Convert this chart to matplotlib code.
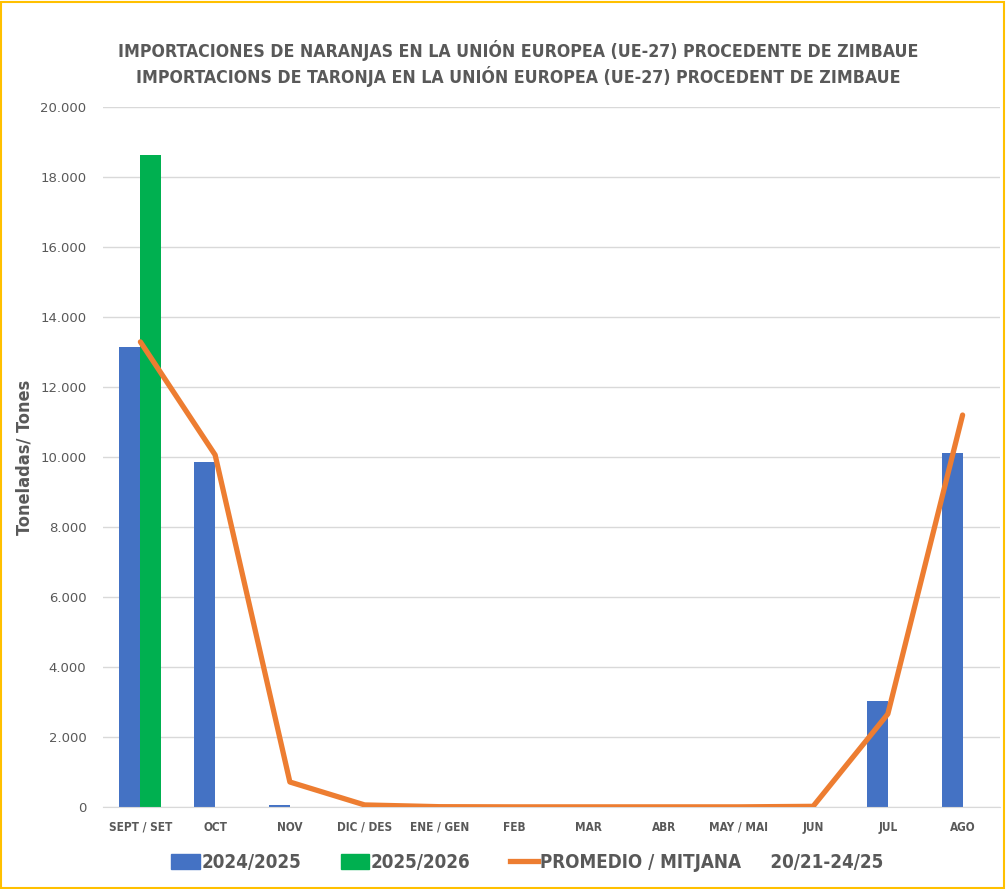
import numpy as np
import matplotlib.pyplot as plt
from matplotlib.patches import Rectangle
from matplotlib.lines import Line2D

months = ['SEPT / SET', 'OCT', 'NOV', 'DIC / DES', 'ENE / GEN', 'FEB', 'MAR',
          'ABR', 'MAY / MAI', 'JUN', 'JUL', 'AGO']
s2425 = [13140, 9860, 60, 0, 0, 0, 0, 0, 0, 0, 3030, 10110]
s2526 = [18630, 0, 0, 0, 0, 0, 0, 0, 0, 0, 0, 0]
promedio = [13290, 10060, 715, 60, 10, 5, 5, 5, 5, 20, 2660, 11200]
yticks = np.arange(0, 20001, 2000)
ytick_labels = ['0' if v == 0 else f'{v // 1000}.000' for v in yticks]

plt.rcParams['font.family'] = ['DejaVu Sans']
plt.rcParams['font.stretch'] = 'condensed'
grey = '#595959'

fig = plt.figure(figsize=(10.06, 8.89), dpi=100)
fig.patches.append(Rectangle((0.001, 0.001), 0.997, 0.997, transform=fig.transFigure,
                             fill=False, edgecolor='#FFC000', linewidth=1.5))
ax = fig.add_axes([0.1024, 0.0922, 0.8916, 0.7874])

x = np.arange(len(months))
w = 0.28
b1 = ax.bar(x - w / 2, s2425, w, color='#4472C4', zorder=2)
b2 = ax.bar(x + w / 2, s2526, w, color='#00B050', zorder=2)
ln, = ax.plot(x, promedio, color='#ED7D31', linewidth=3.8, solid_capstyle='round', zorder=3)

ax.set_xlim(-0.5, len(months) - 0.5)
ax.set_ylim(0, 20000)
ax.set_yticks(yticks)
ax.set_yticklabels(ytick_labels, fontsize=9.5, color=grey, fontstretch='normal')
ax.set_xticks(x)
ax.set_xticklabels(months, fontsize=8.5, fontweight='bold', color=grey)
ax.xaxis.set_tick_params(length=0, pad=10)
ax.yaxis.set_tick_params(length=0, pad=12)
ax.grid(axis='y', color='#D9D9D9', linewidth=1, zorder=0)
for s in ['top', 'right', 'left']:
    ax.spines[s].set_visible(False)
ax.spines['bottom'].set_color('#D9D9D9')

ax.set_ylabel('Toneladas/ Tones', fontsize=13, fontweight='bold', color=grey)
ax.yaxis.set_label_coords(-0.077, 0.5)
fig.text(0.515, 0.929, 'IMPORTACIONES DE NARANJAS EN LA UNIÓN EUROPEA (UE-27) PROCEDENTE DE ZIMBAUE\n'
         'IMPORTACIONS DE TARONJA EN LA UNIÓN EUROPEA (UE-27) PROCEDENT DE ZIMBAUE',
         ha='center', va='center', fontsize=12.7, fontweight='bold', color=grey, linespacing=1.3)

handles = [Rectangle((0, 0), 1, 1, color='#4472C4'), Rectangle((0, 0), 1, 1, color='#00B050'),
           Line2D([], [], color='#ED7D31', linewidth=3.8)]
leg = fig.legend(handles, ['2024/2025', '2025/2026', 'PROMEDIO / MITJANA     20/21-24/25'],
                 loc='center', bbox_to_anchor=(0.524, 0.03), ncol=3, frameon=False,
                 prop={'size': 13.5, 'weight': 'bold', 'stretch': 'condensed'},
                 handlelength=1.5, handleheight=0.9, handletextpad=0.1, columnspacing=2.1)
for t in leg.get_texts():
    t.set_color(grey)

plt.savefig('out.png', dpi=100)
